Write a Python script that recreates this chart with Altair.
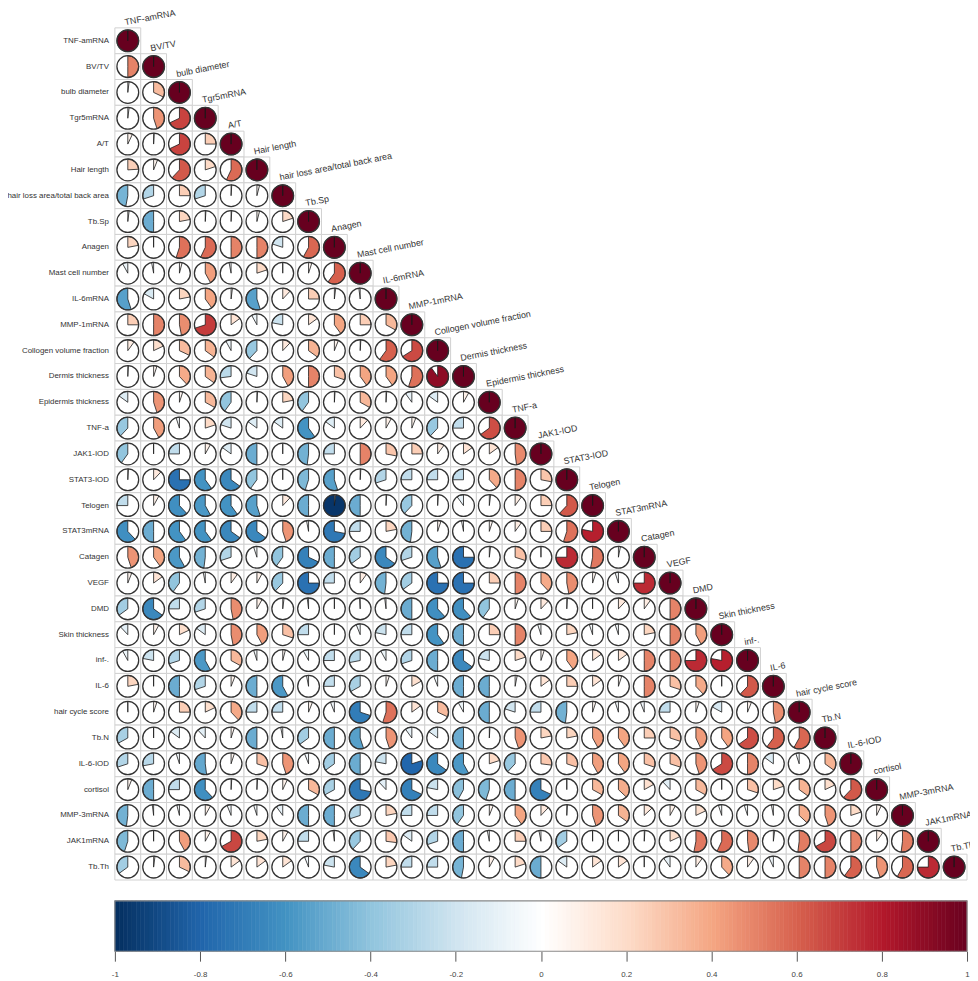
import altair as alt
import pandas as pd

names = [
    "TNF-amRNA", "BV/TV", "bulb diameter", "Tgr5mRNA", "A/T", "Hair length",
    "hair loss area/total back area", "Tb.Sp", "Anagen", "Mast cell number",
    "IL-6mRNA", "MMP-1mRNA", "Collogen volume fraction", "Dermis thickness",
    "Epidermis thickness", "TNF-a", "JAK1-IOD", "STAT3-IOD", "Telogen",
    "STAT3mRNA", "Catagen", "VEGF", "DMD", "Skin thickness", "inf-.", "IL-6",
    "hair cycle score", "Tb.N", "IL-6-IOD", "cortisol", "MMP-3mRNA",
    "JAK1mRNA", "Tb.Th",
]

# lower triangle, row i holds the correlations with columns 0 .. i-1
corr_rows = [
    [],
    [0.5],
    [0.02, 0.32],
    [0.02, 0.45, 0.68],
    [0.07, 0.01, 0.68, 0.25],
    [0.24, 0.06, 0.62, 0.2, 0.57],
    [-0.47, -0.3, 0.25, -0.3, 0.01, 0.04],
    [0.02, -0.5, 0.22, 0.01, 0.01, 0.04, 0.2],
    [0.22, 0.0, 0.55, 0.57, 0.5, 0.5, -0.2, 0.58],
    [-0.08, -0.03, 0.04, 0.42, -0.03, 0.2, 0.0, 0.05, 0.6],
    [-0.55, -0.17, 0.22, 0.4, 0.02, -0.55, 0.12, 0.25, 0.02, -0.02],
    [0.25, 0.5, 0.47, 0.7, 0.15, -0.08, -0.22, 0.15, 0.4, 0.25, 0.33],
    [0.1, 0.18, 0.32, 0.35, -0.08, -0.38, 0.12, 0.35, 0.06, 0.01, 0.6, 0.66],
    [0.01, 0.05, 0.38, 0.35, -0.27, -0.2, 0.42, 0.5, 0.3, 0.4, 0.4, 0.55, 0.9],
    [-0.15, 0.45, 0.05, 0.33, -0.4, 0.01, 0.22, -0.4, 0.01, 0.33, 0.01, -0.1, -0.15, 0.08],
    [-0.38, 0.42, -0.05, 0.2, -0.2, -0.15, -0.15, -0.6, -0.15, 0.12, 0.08, 0.06, -0.38, -0.25, 0.65],
    [-0.4, 0.0, -0.25, 0.08, -0.15, -0.5, 0.0, -0.48, -0.25, 0.5, 0.28, 0.25, 0.1, 0.15, 0.15, 0.48],
    [0.01, 0.12, -0.75, -0.6, -0.65, -0.4, 0.0, -0.45, -0.55, 0.01, -0.3, -0.25, -0.25, -0.25, 0.38, 0.5, 0.28],
    [-0.25, 0.08, -0.62, -0.58, -0.6, -0.55, 0.12, -0.5, -0.98, -0.5, 0.01, -0.38, 0.01, -0.1, 0.02, 0.1, 0.25, 0.62],
    [-0.62, -0.5, -0.6, -0.6, -0.65, -0.65, 0.45, -0.03, -0.72, -0.25, 0.22, -0.48, 0.05, -0.03, 0.05, 0.1, 0.25, 0.55, 0.78],
    [0.45, 0.4, -0.58, -0.48, -0.3, -0.05, -0.4, -0.68, -0.5, -0.35, -0.65, -0.3, -0.55, -0.75, 0.02, 0.3, 0.0, 0.75, 0.53, 0.03],
    [0.06, 0.15, -0.4, -0.03, 0.1, 0.08, -0.38, -0.75, -0.25, 0.1, -0.48, -0.35, -0.75, -0.75, 0.25, 0.5, 0.38, 0.47, 0.05, -0.05, 0.75],
    [-0.35, -0.65, -0.25, -0.3, 0.47, 0.08, 0.02, -0.02, 0.0, -0.01, -0.02, -0.5, -0.62, -0.62, -0.4, 0.05, 0.12, 0.01, 0.0, 0.12, 0.1, 0.5],
    [-0.12, 0.08, 0.18, -0.15, 0.47, 0.42, 0.3, -0.25, 0.0, -0.06, -0.22, -0.25, -0.6, -0.5, 0.25, 0.5, -0.05, 0.22, -0.05, -0.05, 0.22, 0.5, 0.42],
    [-0.08, -0.22, -0.3, -0.58, 0.33, -0.05, 0.04, -0.08, -0.25, -0.28, -0.08, -0.3, -0.5, -0.65, -0.22, 0.2, 0.05, 0.4, 0.15, 0.15, 0.5, 0.5, 0.75, 0.78],
    [0.22, 0.0, -0.5, -0.3, 0.06, -0.5, -0.58, -0.03, -0.25, -0.33, 0.05, 0.17, -0.06, -0.5, -0.5, 0.03, 0.15, 0.25, 0.15, 0.05, 0.5, 0.3, 0.38, 0.0, 0.62],
    [0.0, 0.05, 0.25, 0.18, 0.38, -0.25, -0.25, 0.06, -0.06, -0.7, 0.55, 0.15, 0.32, -0.08, -0.5, -0.2, -0.25, -0.48, 0.05, -0.05, -0.06, -0.25, 0.05, -0.17, 0.06, 0.47],
    [-0.33, 0.0, -0.15, -0.12, 0.05, -0.5, -0.03, -0.35, -0.5, -0.55, 0.45, -0.1, -0.15, -0.5, 0.01, 0.45, 0.22, 0.22, 0.42, 0.4, 0.25, 0.3, 0.43, 0.4, 0.65, 0.6, 0.58],
    [-0.3, -0.28, -0.05, -0.52, 0.05, 0.3, 0.45, -0.06, -0.35, -0.5, -0.22, -0.8, -0.65, -0.58, 0.2, -0.38, 0.27, 0.3, 0.42, 0.4, 0.3, 0.3, 0.45, 0.66, 0.5, -0.15, -0.05, 0.35],
    [0.06, -0.5, -0.25, -0.62, 0.01, 0.01, 0.07, 0.33, -0.33, -0.72, -0.12, -0.68, -0.22, -0.42, -0.45, -0.5, -0.68, 0.0, 0.33, 0.37, 0.17, -0.12, 0.33, 0.0, 0.3, 0.2, 0.35, 0.18, 0.62],
    [-0.48, -0.02, -0.04, 0.08, -0.06, -0.05, -0.1, -0.5, -0.5, -0.3, 0.22, -0.25, -0.25, -0.4, 0.06, 0.4, 0.12, 0.01, 0.45, 0.35, 0.13, 0.08, 0.18, -0.05, -0.05, -0.03, 0.37, 0.45, 0.2, 0.07],
    [-0.45, 0.0, 0.42, 0.08, 0.67, 0.22, 0.08, -0.25, -0.02, -0.38, 0.27, -0.15, -0.3, -0.5, -0.03, 0.25, -0.03, -0.35, 0.0, 0.0, 0.01, 0.18, 0.53, 0.57, 0.48, 0.02, 0.52, 0.67, 0.5, 0.1, 0.52],
    [-0.35, 0.02, 0.32, 0.02, 0.15, 0.15, 0.15, -0.06, -0.22, -0.65, 0.22, -0.25, -0.25, -0.47, 0.08, 0.2, -0.5, -0.15, 0.15, 0.15, 0.0, -0.1, 0.1, 0.38, 0.1, -0.07, 0.5, 0.5, 0.6, 0.45, 0.58, 0.75],
]

color_domain = [-1, -0.8, -0.6, -0.4, -0.2, 0, 0.2, 0.4, 0.6, 0.8, 1]
color_range = ["#053061", "#2166AC", "#4393C3", "#92C5DE", "#D1E5F0", "#FFFFFF",
               "#FDDBC7", "#F4A582", "#D6604D", "#B2182B", "#67001F"]
tick_values = [-1, -0.8, -0.6, -0.4, -0.2, 0, 0.2, 0.4, 0.6, 0.8, 1]
bar_steps = [round(-1 + k * 0.01, 2) for k in range(201)]

records = []
for i, row in enumerate(corr_rows):
    for j, v in enumerate(row):
        records.append({"row": i, "col": j, "r": v})
    records.append({"row": i, "col": i, "r": 1.0})
df = pd.DataFrame(records)
label_df = pd.DataFrame({"idx": list(range(len(names))), "name": names})

n = len(names)
cell = 26.1
size = round(cell * n)
FONT = "Liberation Sans"
TEXT = "#333333"

cscale = alt.Scale(domain=color_domain, range=color_range, interpolate="rgb")
xs = alt.Scale(domain=[-0.5, n - 0.5], nice=False, zero=False)
ys = alt.Scale(domain=[-0.5, n - 0.5], nice=False, zero=False, reverse=True)

base = alt.Chart(df).transform_calculate(
    x1="datum.col - 0.5", x2="datum.col + 0.5",
    y1="datum.row - 0.5", y2="datum.row + 0.5",
    t0="datum.r >= 0 ? 0 : 6.2832 * (1 + datum.r)",
    t1="datum.r >= 0 ? 6.2831 * datum.r : 6.2832",
)

grid = base.mark_rect(fill="white", stroke="#D0D0D0", strokeWidth=1).encode(
    x=alt.X("x1:Q", scale=xs, axis=None), x2="x2:Q",
    y=alt.Y("y1:Q", scale=ys, axis=None), y2="y2:Q",
)

pies = base.mark_arc(outerRadius=11, innerRadius=0, stroke="#1a1a1a", strokeWidth=0.8).encode(
    x=alt.X("col:Q", scale=xs, axis=None),
    y=alt.Y("row:Q", scale=ys, axis=None),
    theta=alt.Theta("t0:Q", scale=None),
    theta2=alt.Theta2("t1:Q"),
    color=alt.Color("r:Q", scale=cscale, legend=None),
)

outline = base.mark_arc(outerRadius=11, innerRadius=0, fill="transparent",
                        stroke="#333333", strokeWidth=1.3).encode(
    x=alt.X("col:Q", scale=xs, axis=None),
    y=alt.Y("row:Q", scale=ys, axis=None),
    theta=alt.value(0), theta2=alt.value(6.2832),
)

row_labels = alt.Chart(label_df).transform_calculate(lx="-0.5").mark_text(
    align="right", baseline="middle", fontSize=8, font=FONT, color=TEXT, dx=-6,
).encode(
    x=alt.X("lx:Q", scale=xs, axis=None),
    y=alt.Y("idx:Q", scale=ys, axis=None),
    text="name:N",
)

diag_labels = alt.Chart(label_df).transform_calculate(ly="datum.idx - 0.5").mark_text(
    align="left", baseline="bottom", angle=349, fontSize=9, font=FONT,
    color=TEXT, dx=-2, dy=-1,
).encode(
    x=alt.X("idx:Q", scale=xs, axis=None),
    y=alt.Y("ly:Q", scale=ys, axis=None),
    text="name:N",
)

top = alt.layer(grid, pies, outline, row_labels, diag_labels).properties(width=size, height=size)

bar_df = pd.DataFrame({"v": bar_steps[:-1], "v2": bar_steps[1:], "k": "bar"})
bscale = alt.Scale(domain=[-1, 1], nice=False, zero=False)
bar = alt.Chart(bar_df).mark_rect(strokeWidth=0.6).encode(
    x=alt.X("v:Q", scale=bscale,
            axis=alt.Axis(values=tick_values, labelExpr="datum.value + ''", tickSize=10,
                          tickColor="#555555", domain=False, grid=False, labelFontSize=8,
                          labelFont=FONT, labelColor="#444444", labelPadding=9,
                          title=None, labelFlush=False, labelOverlap=False)),
    x2="v2:Q",
    y=alt.Y("k:N", axis=None),
    color=alt.Color("v:Q", scale=cscale, legend=None),
    stroke=alt.Stroke("v:Q", scale=cscale, legend=None),
)
border_df = pd.DataFrame({"a": [-1], "b": [1], "k": ["bar"]})
border = alt.Chart(border_df).mark_rect(fill="transparent", stroke="#8a8a8a", strokeWidth=1.2).encode(
    x=alt.X("a:Q", scale=bscale), x2="b:Q", y=alt.Y("k:N", axis=None),
)
colorbar = alt.layer(bar, border).properties(width=size, height=51)

chart = alt.vconcat(top, colorbar, spacing=17).properties(
    padding={"left": -2, "top": -5, "right": -6, "bottom": 0},
    background="white",
).configure_view(stroke="transparent")

chart.save("out.html", embed_options={"renderer": "svg", "actions": False})
